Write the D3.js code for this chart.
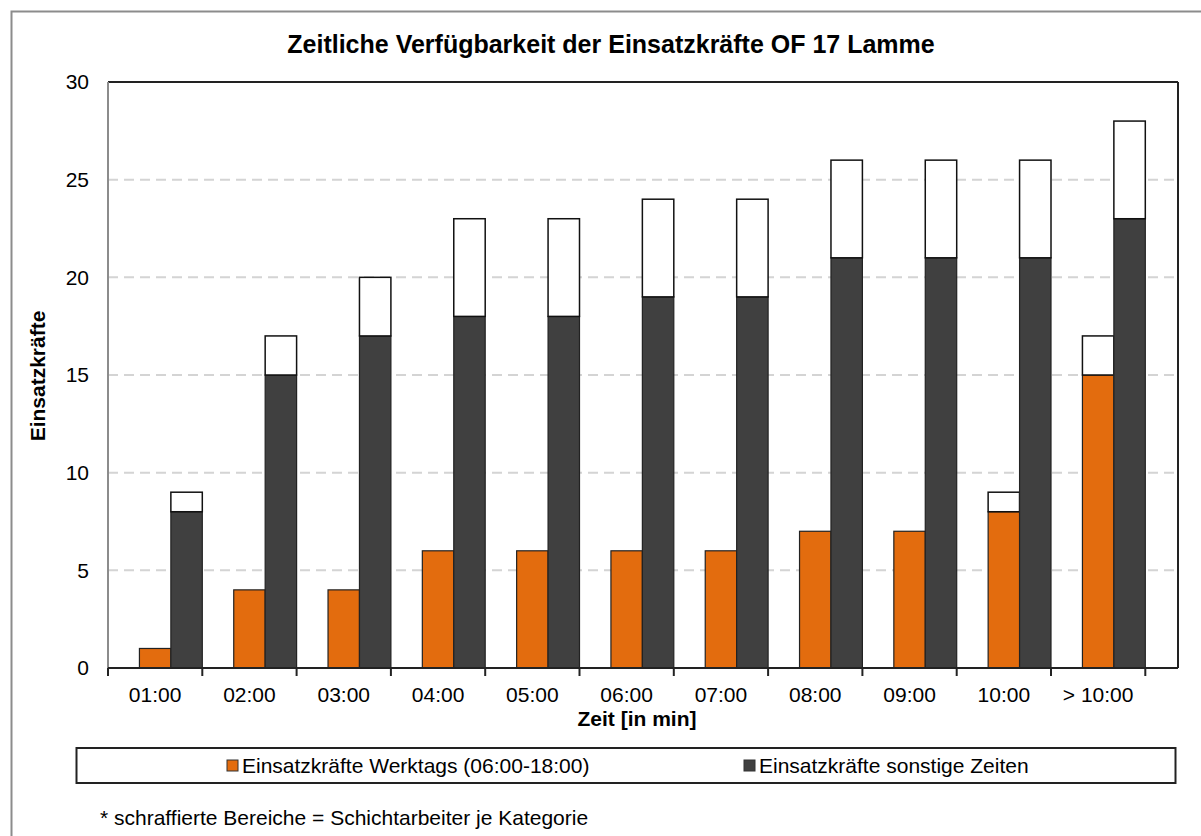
<!DOCTYPE html>
<html>
<head>
<meta charset="utf-8">
<script src="https://cdn.jsdelivr.net/npm/d3@7"></script>
<style>
  body { margin: 0; background: #fff; }
  text { font-family: "Liberation Sans", Arial, sans-serif; }
</style>
</head>
<body>
<div class="chart"></div>
<script>
let categories = ['01:00', '02:00', '03:00', '04:00', '05:00', '06:00', '07:00', '08:00', '09:00', '10:00', '> 10:00'];
let werktags = [1, 4, 4, 6, 6, 6, 6, 7, 7, 8, 15];
let werktagsSchicht = [0, 0, 0, 0, 0, 0, 0, 0, 0, 1, 2];
let sonstige = [8, 15, 17, 18, 18, 19, 19, 21, 21, 21, 23];
let sonstigeSchicht = [1, 2, 3, 5, 5, 5, 5, 5, 5, 5, 5];
let yTicks = [0, 5, 10, 15, 20, 25, 30];

let W = 1201, H = 836;
let margin = { top: 82, left: 108, bottom: 168, right: 23 };
let plotW = W - margin.left - margin.right;
let plotH = H - margin.top - margin.bottom;
let bandW = 94.3;
let font = '"Liberation Sans", Arial, sans-serif';

let svg = d3.select('.chart')
  .append('svg')
    .attr('width', W)
    .attr('height', H);

// outer chart frame (runs off the right and bottom edges)
svg.append('rect')
  .attr('x', 11.5).attr('y', 11.5)
  .attr('width', W).attr('height', H)
  .style('fill', '#fff')
  .style('stroke', '#8c8c8c')
  .style('stroke-width', 2);

svg.append('text')
  .attr('x', 611).attr('y', 53)
  .attr('text-anchor', 'middle')
  .style('font-size', '25px')
  .style('font-weight', 'bold')
  .text('Zeitliche Verfügbarkeit der Einsatzkräfte OF 17 Lamme');

let g = svg.append('g')
  .attr('transform', `translate(${margin.left}, ${margin.top})`);

let yScale = d3.scaleLinear()
  .domain([0, 30])
  .range([plotH, 0]);

let xScale = d3.scaleBand()
  .domain(categories)
  .range([0, bandW * categories.length])
  .padding(0);

// gridlines
g.selectAll('.grid')
  .data(yTicks.filter(d => d > 0 && d < 30))
  .enter().append('line')
    .attr('x1', 0).attr('x2', plotW)
    .attr('y1', d => yScale(d)).attr('y2', d => yScale(d))
    .style('stroke', '#d4d4d4')
    .style('stroke-width', 2)
    .style('stroke-dasharray', '10,6');

let sub = bandW / 3;

function drawBars(values, extra, offset, color) {
  // main part
  g.selectAll(null)
    .data(categories)
    .enter().append('rect')
      .attr('x', (d, i) => xScale(d) + offset)
      .attr('y', (d, i) => yScale(values[i]))
      .attr('width', sub)
      .attr('height', (d, i) => yScale(0) - yScale(values[i]))
      .style('fill', color)
      .style('stroke', '#222')
      .style('stroke-width', 1.2);
  // white shift-worker portion on top
  g.selectAll(null)
    .data(categories.filter((d, i) => extra[i] > 0))
    .enter().append('rect')
      .attr('x', d => xScale(d) + offset)
      .attr('y', d => { let i = categories.indexOf(d); return yScale(values[i] + extra[i]); })
      .attr('width', sub)
      .attr('height', d => { let i = categories.indexOf(d); return yScale(values[i]) - yScale(values[i] + extra[i]); })
      .style('fill', '#fff')
      .style('stroke', '#111')
      .style('stroke-width', 1.5);
}

drawBars(werktags, werktagsSchicht, sub, '#e36c0e');
drawBars(sonstige, sonstigeSchicht, 2 * sub, '#404040');

// plot frame
g.append('line').attr('x1', 0).attr('x2', plotW).attr('y1', 0).attr('y2', 0)
  .style('stroke', '#222').style('stroke-width', 2);
g.append('line').attr('x1', plotW).attr('x2', plotW).attr('y1', 0).attr('y2', plotH)
  .style('stroke', '#222').style('stroke-width', 2);
g.append('line').attr('x1', 0).attr('x2', 0).attr('y1', 0).attr('y2', plotH)
  .style('stroke', '#8c8c8c').style('stroke-width', 2);

// y axis labels
let yAxis = d3.axisLeft(yScale).tickValues(yTicks).tickSize(0).tickPadding(19);
let yG = g.append('g').call(yAxis);
yG.select('.domain').remove();
yG.selectAll('text').style('font-size', '21px').style('fill', '#000').style('font-family', font);

// x axis
let xAxis = d3.axisBottom(xScale).tickSize(0).tickPadding(19);
let xG = g.append('g').attr('transform', `translate(0, ${plotH})`).call(xAxis);
xG.select('.domain').remove();
xG.selectAll('text').style('font-size', '21px').style('fill', '#000').style('font-family', font);

g.append('line').attr('x1', 0).attr('x2', plotW).attr('y1', plotH).attr('y2', plotH)
  .style('stroke', '#222').style('stroke-width', 2);
g.selectAll('.xtick')
  .data(d3.range(categories.length + 1))
  .enter().append('line')
    .attr('x1', d => d * bandW).attr('x2', d => d * bandW)
    .attr('y1', plotH).attr('y2', plotH + 8)
    .style('stroke', '#222').style('stroke-width', 2);

svg.append('text')
  .attr('x', 637).attr('y', 726)
  .attr('text-anchor', 'middle')
  .style('font-size', '21px').style('font-weight', 'bold')
  .text('Zeit [in min]');

svg.append('text')
  .attr('transform', 'translate(45, 376) rotate(-90)')
  .attr('text-anchor', 'middle')
  .style('font-size', '21px').style('font-weight', 'bold')
  .text('Einsatzkräfte');

// legend
svg.append('rect')
  .attr('x', 76.5).attr('y', 748)
  .attr('width', 1099).attr('height', 35)
  .style('fill', '#fff').style('stroke', '#222').style('stroke-width', 2);

let legendItems = [
  { label: 'Einsatzkräfte Werktags (06:00-18:00)', color: '#e36c0e', x: 227 },
  { label: 'Einsatzkräfte sonstige Zeiten', color: '#404040', x: 744 }
];
let lg = svg.selectAll('.legend')
  .data(legendItems)
  .enter().append('g')
    .attr('transform', d => `translate(${d.x}, 760)`);
lg.append('rect')
  .attr('width', 11).attr('height', 11)
  .style('fill', d => d.color).style('stroke', '#333').style('stroke-width', 1);
lg.append('text')
  .attr('x', 15).attr('y', 13)
  .style('font-size', '21px')
  .text(d => d.label);

svg.append('text')
  .attr('x', 100).attr('y', 825)
  .style('font-size', '21px')
  .text('* schraffierte Bereiche = Schichtarbeiter je Kategorie');
</script>
</body>
</html>
